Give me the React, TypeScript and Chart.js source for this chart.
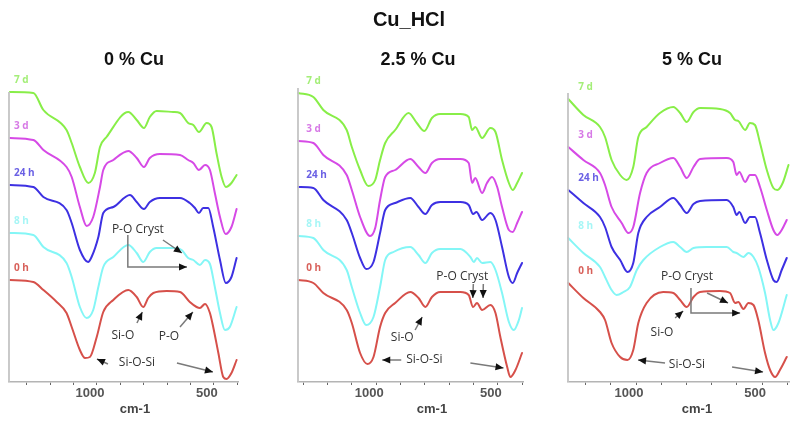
import React, { useEffect, useRef } from 'react';
import { Chart, registerables } from 'chart.js';

Chart.register(...registerables);

// ---------- data ----------
const MAIN_TITLE = 'Cu_HCl';
const PANEL_TITLES = ['0 % Cu', '2.5 % Cu', '5 % Cu'];
const AXIS_TITLE = 'cm-1';
const SERIES_NAMES = ['0 h', '8 h', '24 h', '3 d', '7 d'];
const TICK_VALUES = [400, 500, 600, 700, 800, 900, 1000, 1100, 1200, 1300];
const TICK_LABELS = [500, 1000];

type P = [number, number];

// Panel 1 : 0 % Cu   [wavenumber, transmittance (arb. units, offset)]
const P1_0H: P[] = [[1372,102],[1272,100],[1229,92],[1172,80],[1130,69],[1108,55],[1073,32],[1051,24],[1030,25],[1001,45],[973,70],[930,82],[866,92],[830,85],[802,75],[781,84],[759,89],[702,91],[645,90],[603,80],[574,75],[560,74],[538,78],[517,69],[503,55],[481,29],[460,5],[446,3],[425,9],[403,22]];
const P1_8H: P[] = [[1372,149],[1272,147],[1229,135],[1130,119],[1108,105],[1073,75],[1044,64],[1016,72],[994,95],[973,115],[930,125],[866,137],[830,129],[802,120],[774,130],[745,134],[674,134],[638,132],[610,124],[588,122],[560,117],[538,122],[517,118],[496,95],[474,69],[453,52],[432,55],[403,75]];
const P1_24H: P[] = [[1372,197],[1272,195],[1229,185],[1130,172],[1108,159],[1073,132],[1038,120],[1023,125],[994,145],[973,169],[930,175],[859,187],[830,180],[799,173],[774,180],[731,184],[645,184],[603,179],[581,174],[564,169],[546,174],[524,174],[503,155],[474,122],[449,99],[425,105],[403,124]];
const P1_3D: P[] = [[1372,244],[1272,242],[1229,232],[1130,215],[1108,205],[1073,175],[1044,156],[1016,165],[987,195],[973,212],[930,222],[866,231],[830,224],[799,215],[774,224],[731,228],[645,227],[610,222],[588,219],[564,212],[538,217],[517,212],[496,189],[474,165],[450,148],[425,155],[403,173]];
const P1_7D: P[] = [[1372,290],[1272,289],[1229,272],[1130,252],[1108,239],[1073,215],[1037,199],[1009,209],[987,235],[959,245],[866,270],[830,262],[799,254],[774,265],[745,271],[674,270],[645,269],[610,259],[588,257],[564,250],[531,259],[510,255],[489,229],[467,205],[449,195],[425,199],[403,207]];

// Panel 2 : 2.5 % Cu
const P2_0H: P[] = [[1320,102],[1258,99],[1217,89],[1121,72],[1100,59],[1066,29],[1036,18],[1011,25],[984,55],[963,69],[922,79],[860,90],[826,84],[798,75],[771,85],[737,90],[654,90],[620,87],[602,75],[586,79],[565,72],[531,77],[510,69],[490,45],[462,15],[449,5],[428,12],[401,29]];
const P2_8H: P[] = [[1320,146],[1258,144],[1217,132],[1121,112],[1100,95],[1066,69],[1041,57],[1011,65],[984,95],[963,122],[929,130],[860,135],[826,127],[798,119],[771,129],[737,133],[654,133],[613,125],[599,120],[586,124],[565,119],[531,120],[510,112],[483,89],[455,60],[435,52],[414,62],[401,74]];
const P2_24H: P[] = [[1320,195],[1258,194],[1217,182],[1121,162],[1100,149],[1066,124],[1041,113],[1011,120],[984,149],[963,172],[922,179],[860,184],[826,175],[798,168],[771,177],[737,180],[654,180],[620,177],[602,168],[588,170],[565,162],[531,169],[510,162],[483,135],[455,105],[439,99],[421,109],[401,119]];
const P2_3D: P[] = [[1320,241],[1258,239],[1217,227],[1121,207],[1100,192],[1066,165],[1025,146],[1004,154],[984,182],[963,205],[922,212],[860,223],[826,215],[798,209],[771,219],[737,223],[654,223],[620,219],[606,199],[593,204],[565,189],[545,199],[524,205],[503,195],[483,175],[455,152],[439,150],[421,159],[401,170]];
const P2_7D: P[] = [[1320,289],[1258,285],[1217,272],[1121,252],[1100,235],[1066,212],[1032,196],[1004,202],[984,222],[963,239],[922,252],[867,269],[833,259],[802,251],[771,264],[737,268],[654,268],[620,265],[606,252],[593,255],[565,244],[531,254],[510,250],[483,222],[455,199],[439,192],[421,199],[401,209]];

// Panel 3 : 5 % Cu
const P3_0H: P[] = [[1269,99],[1209,84],[1143,70],[1123,62],[1097,39],[1063,25],[1034,22],[1011,32],[991,59],[958,79],[892,90],[852,89],[825,82],[799,75],[772,85],[746,90],[667,91],[627,89],[607,79],[594,80],[574,73],[554,79],[534,77],[515,62],[488,29],[468,12],[448,5],[429,12],[402,25]];
const P3_8H: P[] = [[1269,144],[1209,129],[1143,115],[1123,105],[1097,92],[1077,87],[1050,90],[1024,95],[997,112],[971,122],[905,135],[852,140],[825,135],[799,130],[772,134],[720,135],[640,135],[614,130],[601,129],[574,125],[554,129],[534,125],[515,115],[488,89],[468,62],[455,52],[435,59],[402,87]];
const P3_24H: P[] = [[1269,192],[1209,179],[1143,165],[1123,155],[1097,135],[1063,122],[1034,110],[1011,119],[991,149],[958,165],[905,175],[852,184],[825,177],[799,169],[772,178],[746,181],[640,182],[614,175],[601,167],[590,170],[567,159],[548,165],[528,165],[508,149],[481,122],[455,102],[442,100],[422,112],[402,124]];
const P3_3D: P[] = [[1269,235],[1209,222],[1143,209],[1123,197],[1097,175],[1057,159],[1030,149],[1011,155],[984,189],[958,209],[905,219],[852,224],[825,215],[799,204],[772,215],[746,223],[640,224],[614,220],[601,207],[590,210],[567,200],[548,207],[528,207],[508,195],[481,172],[455,152],[439,147],[422,152],[402,162]];
const P3_7D: P[] = [[1269,283],[1209,267],[1143,255],[1123,245],[1097,222],[1063,207],[1037,202],[1011,215],[991,245],[958,255],[905,269],[852,275],[825,269],[799,260],[772,270],[746,274],[667,273],[627,269],[607,262],[594,261],[567,252],[548,259],[528,257],[508,239],[481,212],[455,194],[439,192],[418,199],[395,217]];

// annotations: text anchors and arrow polylines (in data coordinates)
type Note = { text: string; at: P };
const P1_NOTES: Note[] = [
  { text: 'P-O Cryst', at: [825, 152] },
  { text: 'Si-O', at: [889, 46] },
  { text: 'P-O', at: [692, 45] },
  { text: 'Si-O-Si', at: [829, 19] },
];
const P1_ARROWS: P[][] = [
  [[718, 142], [637, 129]],
  [[868, 147], [868, 115], [615, 115]],
  [[829, 59], [806, 70]],
  [[645, 55], [590, 70]],
  [[953, 18], [1000, 23]],
  [[658, 19], [504, 10]],
];
const P2_NOTES: Note[] = [
  { text: 'P-O Cryst', at: [646, 105] },
  { text: 'Si-O', at: [893, 44] },
  { text: 'Si-O-Si', at: [802, 22] },
];
const P2_ARROWS: P[][] = [
  [[601, 98], [603, 84]],
  [[560, 98], [561, 84]],
  [[840, 52], [811, 65]],
  [[897, 22], [975, 22]],
  [[613, 19], [477, 14]],
];
const P3_NOTES: Note[] = [
  { text: 'P-O Cryst', at: [798, 105] },
  { text: 'Si-O', at: [897, 49] },
  { text: 'Si-O-Si', at: [798, 17] },
];
const P3_ARROWS: P[][] = [
  [[782, 94], [782, 69], [587, 69]],
  [[718, 89], [635, 79]],
  [[845, 64], [813, 71]],
  [[885, 19], [992, 22]],
  [[619, 15], [496, 10]],
];

// ---------- styles / layout ----------
const LINE_COLORS = ['#d6504a', '#84f6f6', '#3d30e2', '#d64ae6', '#88ee48'];
const LABEL_COLORS = ['#d8605a', '#a6f6f6', '#6a60e4', '#d77ae6', '#a4ee78'];

type PanelLayout = {
  left: number; right: number; top: number; bottom: number;
  xMin: number; xMax: number; yMax: number;
  titleX: number; axisTitleX: number; labelDx: number;
};

const PANELS: { layout: PanelLayout; series: P[][]; notes: Note[]; arrows: P[][]; title: string }[] = [
  { layout: { left: 9, right: 238, top: 92, bottom: 382, xMin: 397, xMax: 1376, yMax: 290, titleX: 134, axisTitleX: 135, labelDx: 4 },
    series: [P1_0H, P1_8H, P1_24H, P1_3D, P1_7D], notes: P1_NOTES, arrows: P1_ARROWS, title: PANEL_TITLES[0] },
  { layout: { left: 298, right: 523, top: 88, bottom: 382, xMin: 397, xMax: 1321, yMax: 294, titleX: 418, axisTitleX: 432, labelDx: 8 },
    series: [P2_0H, P2_8H, P2_24H, P2_3D, P2_7D], notes: P2_NOTES, arrows: P2_ARROWS, title: PANEL_TITLES[1] },
  { layout: { left: 568, right: 789, top: 93, bottom: 382, xMin: 393, xMax: 1270, yMax: 289, titleX: 692, axisTitleX: 697, labelDx: 10 },
    series: [P3_0H, P3_8H, P3_24H, P3_3D, P3_7D], notes: P3_NOTES, arrows: P3_ARROWS, title: PANEL_TITLES[2] },
];

const W = 800;
const H = 424;

function drawArrow(ctx: CanvasRenderingContext2D, pts: { x: number; y: number }[]) {
  ctx.save();
  ctx.strokeStyle = '#7a7a7a';
  ctx.lineWidth = 1.5;
  ctx.beginPath();
  pts.forEach((p, i) => (i === 0 ? ctx.moveTo(p.x, p.y) : ctx.lineTo(p.x, p.y)));
  const a = pts[pts.length - 2];
  const b = pts[pts.length - 1];
  const ang = Math.atan2(b.y - a.y, b.x - a.x);
  ctx.stroke();
  const len = 8;
  const half = 3.6;
  ctx.fillStyle = '#111';
  ctx.beginPath();
  ctx.moveTo(b.x, b.y);
  ctx.lineTo(b.x - len * Math.cos(ang) + half * Math.sin(ang), b.y - len * Math.sin(ang) - half * Math.cos(ang));
  ctx.lineTo(b.x - len * Math.cos(ang) - half * Math.sin(ang), b.y - len * Math.sin(ang) + half * Math.cos(ang));
  ctx.closePath();
  ctx.fill();
  ctx.restore();
}

function makeDecor(panelIndex: number) {
  const panel = PANELS[panelIndex];
  return {
    id: 'decor' + panelIndex,
    afterDatasetsDraw(chart: any) {
      const ctx: CanvasRenderingContext2D = chart.ctx;
      const xs = chart.scales.x;
      const ys = chart.scales.y;
      const area = chart.chartArea;
      const px = (p: P) => ({ x: xs.getPixelForValue(p[0]), y: ys.getPixelForValue(p[1]) });
      ctx.save();
      // y axis line
      ctx.strokeStyle = '#c4c4c4';
      ctx.lineWidth = 1.8;
      ctx.beginPath();
      ctx.moveTo(area.left, area.top);
      ctx.lineTo(area.left, area.bottom);
      ctx.stroke();

      // main title (once)
      ctx.textAlign = 'center';
      ctx.textBaseline = 'middle';
      ctx.fillStyle = '#111';
      if (panelIndex === 0) {
        ctx.font = 'bold 20px "Liberation Sans", Arial, sans-serif';
        ctx.fillText(MAIN_TITLE, 409, 20);
      }
      ctx.font = 'bold 18px "Liberation Sans", Arial, sans-serif';
      ctx.fillText(panel.title, panel.layout.titleX, 60);

      // axis title
      ctx.fillStyle = '#444';
      ctx.font = 'bold 13px "Liberation Sans", Arial, sans-serif';
      ctx.fillText(AXIS_TITLE, panel.layout.axisTitleX, 409);

      // series labels
      ctx.textAlign = 'left';
      ctx.font = 'bold 10px "Open Sans", "DejaVu Sans", sans-serif';
      panel.series.forEach((s, i) => {
        const p = px(s[0]);
        ctx.fillStyle = LABEL_COLORS[i];
        ctx.fillText(SERIES_NAMES[i], p.x + panel.layout.labelDx, p.y - 12);
      });

      // notes
      ctx.textAlign = 'center';
      ctx.fillStyle = '#333';
      ctx.font = '12px "Open Sans", "Noto Sans", sans-serif';
      panel.notes.forEach((n) => {
        const p = px(n.at);
        ctx.fillText(n.text, p.x, p.y);
      });
      ctx.restore();
      panel.arrows.forEach((a) => drawArrow(ctx, a.map(px)));
    },
  };
}

function Panel({ index }: { index: number }) {
  const ref = useRef<HTMLCanvasElement | null>(null);
  useEffect(() => {
    const panel = PANELS[index];
    const L = panel.layout;
    const chart = new Chart(ref.current as HTMLCanvasElement, {
      type: 'line',
      data: {
        datasets: panel.series.map((s, i) => ({
          label: SERIES_NAMES[i],
          data: s.map(([x, y]) => ({ x, y })),
          borderColor: LINE_COLORS[i],
          backgroundColor: LINE_COLORS[i],
          borderWidth: 2,
          borderJoinStyle: 'round',
          borderCapStyle: 'round',
          pointRadius: 0,
          cubicInterpolationMode: 'monotone' as const,
          fill: false,
          clip: false as any,
        })),
      },
      options: {
        animation: false,
        responsive: false,
        maintainAspectRatio: false,
        devicePixelRatio: 1,
        layout: { padding: { left: L.left, right: W - L.right, top: L.top, bottom: 0 } },
        plugins: { legend: { display: false }, tooltip: { enabled: false }, title: { display: false } },
        scales: {
          x: {
            type: 'linear',
            reverse: true,
            min: L.xMin,
            max: L.xMax,
            afterBuildTicks: (s: any) => {
              s.ticks = TICK_VALUES.filter((v) => v >= L.xMin && v <= L.xMax).map((v) => ({ value: v }));
            },
            afterFit: (s: any) => {
              s.height = H - L.bottom;
            },
            ticks: {
              autoSkip: false,
              maxRotation: 0,
              padding: 1,
              labelOffset: -7,
              color: '#555',
              font: { family: '"Liberation Sans", Arial, sans-serif', size: 13, weight: 'bold' },
              callback: (v: any) => (TICK_LABELS.includes(Number(v)) ? String(v) : ''),
            },
            grid: { drawOnChartArea: false, drawTicks: true, tickLength: 3, color: '#666', lineWidth: 1 },
            border: { display: true, color: '#b4b4b4', width: 1.6 },
          },
          y: { display: false, min: 0, max: L.yMax },
        },
      },
      plugins: [makeDecor(index)],
    } as any);
    return () => chart.destroy();
  }, [index]);
  return (
    <canvas
      ref={ref}
      width={W}
      height={H}
      style={{ position: 'absolute', left: 0, top: 0, width: W, height: H }}
    />
  );
}

export default function App() {
  return (
    <div style={{ position: 'fixed', left: 0, top: 0, width: W, height: H, background: '#fff' }}>
      <Panel index={0} />
      <Panel index={1} />
      <Panel index={2} />
    </div>
  );
}
